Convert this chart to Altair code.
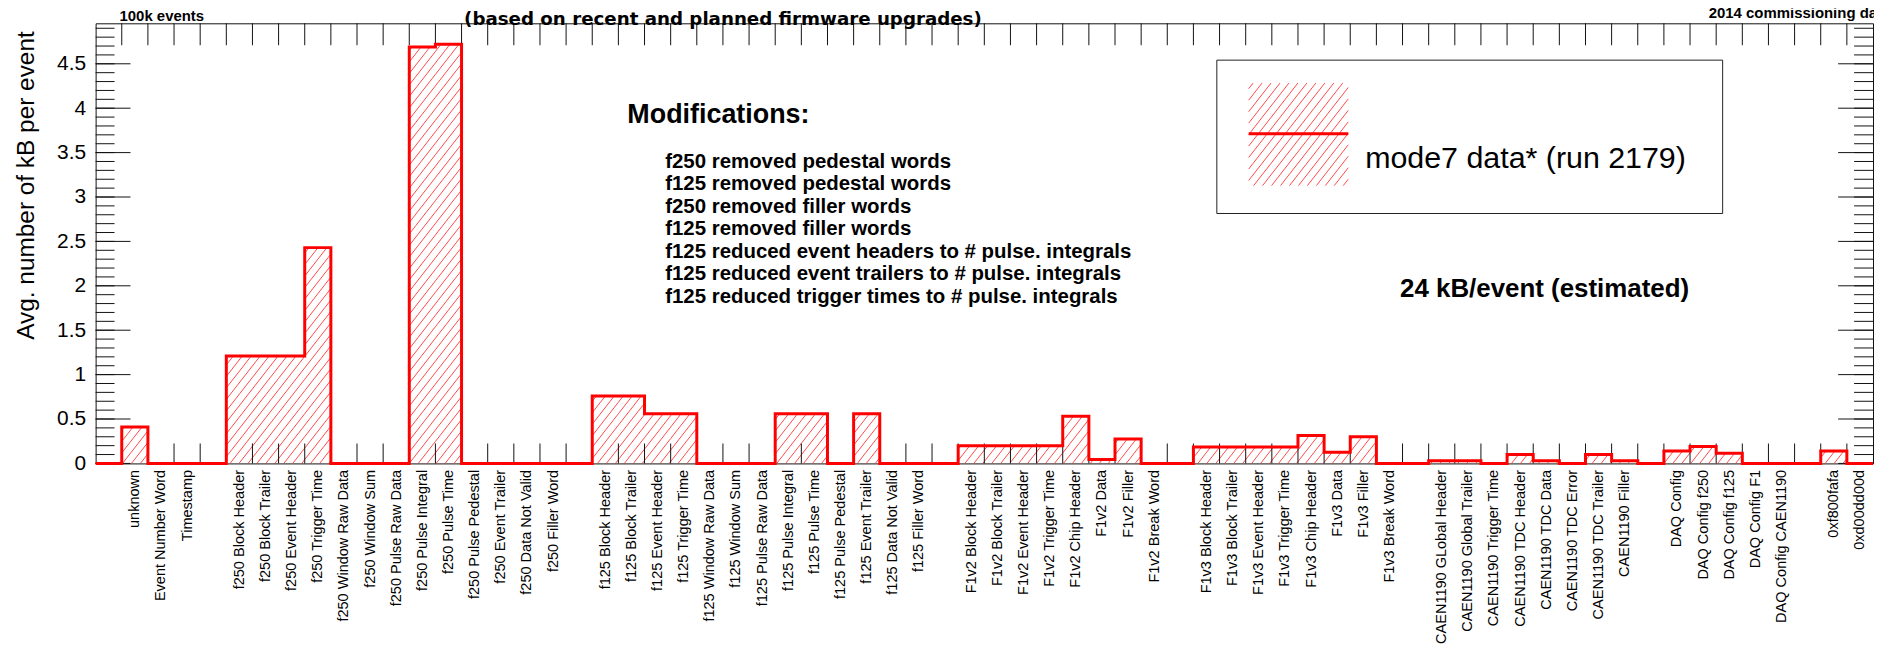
import json
import numpy as np
import pandas as pd
import altair as alt

# ---------------- data ----------------
bin_labels = [
    "", "unknown", "Event Number Word", "Timestamp", "",
    "f250 Block Header", "f250 Block Trailer", "f250 Event Header", "f250 Trigger Time",
    "f250 Window Raw Data", "f250 Window Sum", "f250 Pulse Raw Data", "f250 Pulse Integral",
    "f250 Pulse Time", "f250 Pulse Pedestal", "f250 Event Trailer", "f250 Data Not Valid",
    "f250 Filler Word", "",
    "f125 Block Header", "f125 Block Trailer", "f125 Event Header", "f125 Trigger Time",
    "f125 Window Raw Data", "f125 Window Sum", "f125 Pulse Raw Data", "f125 Pulse Integral",
    "f125 Pulse Time", "f125 Pulse Pedestal", "f125 Event Trailer", "f125 Data Not Valid",
    "f125 Filler Word", "",
    "F1v2 Block Header", "F1v2 Block Trailer", "F1v2 Event Header", "F1v2 Trigger Time",
    "F1v2 Chip Header", "F1v2 Data", "F1v2 Filler", "F1v2 Break Word", "",
    "F1v3 Block Header", "F1v3 Block Trailer", "F1v3 Event Header", "F1v3 Trigger Time",
    "F1v3 Chip Header", "F1v3 Data", "F1v3 Filler", "F1v3 Break Word", "",
    "CAEN1190 GLobal Header", "CAEN1190 Global Trailer", "CAEN1190 Trigger Time",
    "CAEN1190 TDC Header", "CAEN1190 TDC Data", "CAEN1190 TDC Error", "CAEN1190 TDC Trailer",
    "CAEN1190 Filler", "",
    "DAQ Config", "DAQ Config f250", "DAQ Config f125", "DAQ Config F1", "DAQ Config CAEN1190", "",
    "0xf800fafa", "0xd00dd00d",
]

kb_per_event = [
    0, 0.41, 0, 0, 0,
    1.21, 1.21, 1.21, 2.43,
    0, 0, 0, 4.69,
    4.72, 0, 0, 0,
    0, 0,
    0.76, 0.76, 0.56, 0.56,
    0, 0, 0, 0.56,
    0.56, 0, 0.56, 0,
    0, 0,
    0.20, 0.20, 0.20, 0.20,
    0.53, 0.045, 0.275, 0, 0,
    0.185, 0.185, 0.185, 0.185,
    0.315, 0.125, 0.30, 0, 0,
    0.03, 0.03, 0,
    0.10, 0.03, 0, 0.10,
    0.03, 0,
    0.14, 0.19, 0.115, 0, 0, 0,
    0.14, 0,
]

y_major_ticks = [0, 0.5, 1, 1.5, 2, 2.5, 3, 3.5, 4, 4.5]

mod_lines = [
    "f250 removed pedestal words",
    "f125 removed pedestal words",
    "f250 removed filler words",
    "f125 removed filler words",
    "f125 reduced event headers to # pulse. integrals",
    "f125 reduced event trailers to # pulse. integrals",
    "f125 reduced trigger times to # pulse. integrals",
]

assert len(bin_labels) == len(kb_per_event)

# ---------------- layout / style ----------------
FONT = "Liberation Sans"
RED = "#ff0000"
HATCH = "#ff2a2a"
W, H = 1785, 442
PAD_L, PAD_T = 88, 14
nb = len(kb_per_event)
ymax = max(kb_per_event) * 1.05
sx = W / nb
sy = H / ymax

# hatch geometry (pixel angle / spacing -> data units)
ang = np.deg2rad(52)
m = np.tan(ang) * sx / sy      # value per bin along a hatch line
d = 9.0 / sx                   # horizontal spacing in bin units


def hatch(x0, x1, y0, y1):
    out = []
    kmin = int(np.floor((x0 - y1 / m) / d)) - 1
    kmax = int(np.ceil((x1 - y0 / m) / d)) + 1
    for k in range(kmin, kmax + 1):
        c = k * d
        lo = max(y0, m * (x0 - c))
        hi = min(y1, m * (x1 - c))
        if hi > lo:
            out.append({"x": c + lo / m, "y": lo, "x2": c + hi / m, "y2": hi})
    return out


segs = []
for i, v in enumerate(kb_per_event):
    if v > 0:
        segs += hatch(i, i + 1, 0, v)


def px2x(px):
    return (px - 8 - PAD_L) / sx


def px2y(py):
    return ymax - (py - 8 - PAD_T) / sy


def rx(px):
    return px - 8 - PAD_L


def ry(py):
    return py - 8 - PAD_T


# legend geometry (page pixels)
LEG_BOX = (1222, 1730, 59, 213)
LEG_SYM = (1254, 1354, 82, 185)
LEG_LINE_Y = 133

leg_segs = hatch(px2x(LEG_SYM[0]), px2x(LEG_SYM[1]), px2y(LEG_SYM[3]), px2y(LEG_SYM[2]))

xs = alt.Scale(domain=[0, nb], nice=False, zero=False)
ys = alt.Scale(domain=[0, ymax], nice=False, zero=False)

label_values = [i + 0.5 for i, n in enumerate(bin_labels) if n]
x_axis = alt.Axis(
    values=label_values,
    labelExpr=json.dumps(bin_labels) + "[floor(datum.value)]",
    labelAngle=270, labelAlign="right", labelBaseline="middle",
    labelFont=FONT, labelFontSize=14.6, labelColor="black", labelPadding=6,
    labelOverlap=False, labelFlush=False, labelBound=False, labelLimit=0,
    ticks=False, tickSize=0, domain=False, grid=False, title=None,
)
y_axis = alt.Axis(
    values=y_major_ticks, format="~g",
    labelFont=FONT, labelFontSize=21, labelColor="black", labelPadding=10,
    labelFlush=False, labelOverlap=False,
    ticks=False, tickSize=0, domain=False, grid=False, title=None,
)

one = pd.DataFrame({"k": [0]})

# ---------------- layers ----------------
def hatch_layer(rows):
    return alt.Chart(pd.DataFrame(rows)).mark_rule(
        color=HATCH, strokeWidth=1, opacity=0.85
    ).encode(
        x=alt.X("x:Q", scale=xs, axis=x_axis), x2="x2:Q",
        y=alt.Y("y:Q", scale=ys, axis=y_axis), y2="y2:Q",
    )


bounds = pd.DataFrame({"b": list(range(1, nb))})
bottom_ticks = alt.Chart(bounds).mark_rule(color="#111", strokeWidth=1).encode(
    x=alt.X("b:Q", scale=xs, axis=x_axis), y=alt.value(H - 20), y2=alt.value(H)
)
top_ticks = alt.Chart(bounds).mark_rule(color="#111", strokeWidth=1).encode(
    x=alt.X("b:Q", scale=xs, axis=x_axis), y=alt.value(0), y2=alt.value(22)
)

minor_vals = [round(0.1 * k, 1) for k in range(0, 50) if 0.1 * k < ymax]
ymin_df = pd.DataFrame({"v": minor_vals})
ymaj_df = pd.DataFrame({"v": y_major_ticks})


def ytick(df, x1, x2):
    return alt.Chart(df).mark_rule(color="#111", strokeWidth=1).encode(
        y=alt.Y("v:Q", scale=ys, axis=y_axis), x=alt.value(x1), x2=alt.value(x2))


outline_df = pd.DataFrame({
    "edge": list(range(nb)) + [nb],
    "val": kb_per_event + [kb_per_event[-1]],
})
outline = alt.Chart(outline_df).mark_line(
    interpolate="step-after", color=RED, strokeWidth=3, strokeJoin="miter"
).encode(
    x=alt.X("edge:Q", scale=xs, axis=x_axis),
    y=alt.Y("val:Q", scale=ys, axis=y_axis),
)


def txt(t, x, y, size, weight="normal", align="left", baseline="alphabetic",
        angle=None, lh=None, font=FONT):
    kw = dict(font=font, fontSize=size, fontWeight=weight, align=align,
              baseline=baseline, color="black")
    if angle is not None:
        kw["angle"] = angle
    if lh is not None:
        kw["lineHeight"] = lh
    return alt.Chart(one).mark_text(**kw).encode(
        x=alt.value(x), y=alt.value(y), text=alt.value(t))


# legend
leg_box = alt.Chart(one).mark_rect(fill="white", stroke="#222", strokeWidth=1).encode(
    x=alt.value(rx(LEG_BOX[0])), x2=alt.value(rx(LEG_BOX[1])),
    y=alt.value(ry(LEG_BOX[2])), y2=alt.value(ry(LEG_BOX[3])))
leg_line = alt.Chart(one).mark_rule(color=RED, strokeWidth=3).encode(
    x=alt.value(rx(LEG_SYM[0])), x2=alt.value(rx(LEG_SYM[1])), y=alt.value(ry(LEG_LINE_Y)))
leg_text = txt("mode7 data* (run 2179)", rx(1371), ry(167), 30.5)

texts = [
    txt("Avg. number of kB per event", rx(27), ry(30), 24.5, align="right",
        baseline="middle", angle=270),
    txt("100k events", rx(120), ry(20), 15, weight="bold"),
    txt("(based on recent and planned firmware upgrades)", rx(726), ry(23.5), 18.3,
        weight="bold", align="center", font="DejaVu Sans"),
    txt("2014 commissioning data", rx(1716), ry(17), 15, weight="bold"),
    txt("Modifications:", rx(630), ry(122), 27, weight="bold"),
    txt(mod_lines, rx(668), ry(167), 20.5, weight="bold", lh=22.6),
    txt("24 kB/event (estimated)", rx(1406), ry(297), 26, weight="bold"),
]

chart = alt.layer(
    hatch_layer(segs),
    bottom_ticks, top_ticks,
    ytick(ymin_df, 0, 19), ytick(ymaj_df, 0, 35),
    ytick(ymin_df, W - 19, W), ytick(ymaj_df, W - 35, W),
    outline,
    leg_box, hatch_layer(leg_segs), leg_line, leg_text,
    *texts,
).properties(
    width=W, height=H,
    autosize=alt.AutoSizeParams(type="none"),
    padding={"left": PAD_L, "top": PAD_T, "right": 1, "bottom": 638 - PAD_T - H},
    background="white",
).configure_view(stroke="#111", strokeWidth=1)

chart.save("out.html", embed_options={"renderer": "svg", "actions": False})
